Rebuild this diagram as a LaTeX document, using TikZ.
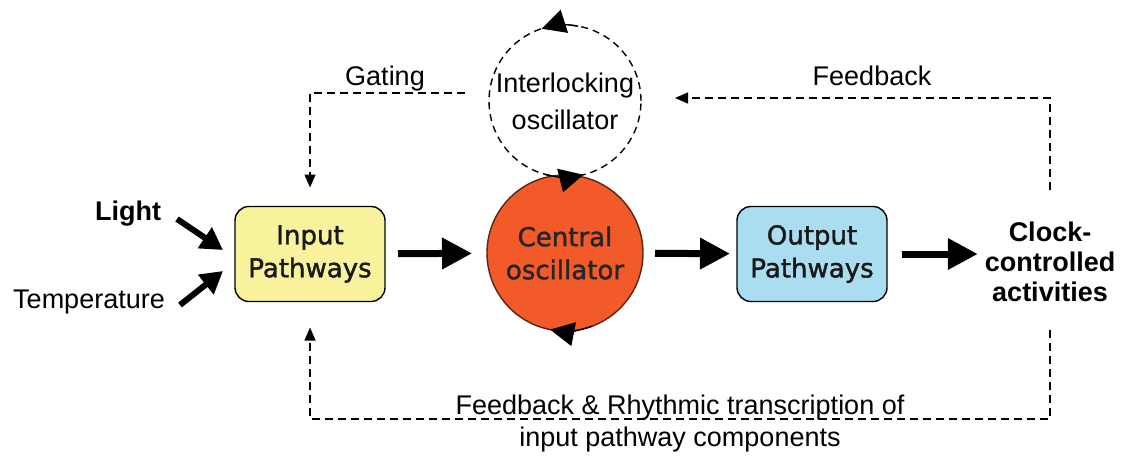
\documentclass[tikz,border=0pt]{standalone}
\usepackage{fontspec}
\setmainfont{Liberation Sans}
\newfontfamily\boxfont[FakeBold=1.5]{DejaVu Sans}
\usetikzlibrary{arrows.meta}
\definecolor{centralfill}{HTML}{F25A2A}
\definecolor{centralline}{HTML}{5A2410}
\definecolor{inputfill}{HTML}{F8F29C}
\definecolor{outputfill}{HTML}{AADDF0}
\begin{document}
\begin{tikzpicture}[x=1pt,y=-1pt,
  txt/.style={font=\fontsize{27}{31}\selectfont, inner sep=0pt, outer sep=0pt},
  boldtxt/.style={font=\fontsize{27}{30}\selectfont\bfseries, inner sep=0pt, outer sep=0pt, align=center},
  pathbox/.style={draw=black, line width=1.4pt, rounded corners=14pt, minimum width=150pt,
    minimum height=95pt, align=center, inner sep=0pt, outer sep=0pt,
    font=\boxfont\fontsize{26}{33}\selectfont, text=black!90},
  dsh/.style={line width=1.4pt, dash pattern=on 8pt off 5pt, -{Triangle[length=13pt,width=11pt]}},
  big/.style={line width=7pt, -{Triangle[length=30pt,width=30pt]}},
  mid/.style={line width=6pt, -{Triangle[length=22pt,width=24pt]}},
  cirtip/.style={solid, line width=1.4pt, -{Triangle[length=24pt,width=24pt]}},
]
\useasboundingbox (0,0) rectangle (1129,455);

% oscillators
\node[circle, draw=black, line width=1.4pt, dash pattern=on 7pt off 5pt, minimum size=152pt,
  inner sep=0pt, outer sep=0pt, align=center, font=\fontsize{27}{37}\selectfont] (inter) at (565,101)
  {Interlocking\\oscillator};
\node[circle, draw=centralline, fill=centralfill, line width=1.4pt, minimum size=156pt,
  inner sep=0pt, outer sep=0pt, align=center, text=black!85,
  font=\boxfont\fontsize{26}{33}\selectfont] (cen) at (565,253)
  {Central\\oscillator};

% circulating arrowheads
\draw[cirtip] (inter.80) arc[start angle=80, end angle=108, radius=76pt];
\draw[cirtip] (inter.255) arc[start angle=255, end angle=284, radius=76pt];
\draw[cirtip, draw=black] (cen.290) arc[start angle=290, end angle=259, radius=78pt];

% boxes
\node[pathbox, fill=inputfill] (inp) at (310,254) {Input\\Pathways};
\node[pathbox, fill=outputfill] (out) at (812,254) {Output\\Pathways};

% texts
\node[boldtxt, anchor=base] (light) at (128,220) {Light};
\node[txt, anchor=base] (temp) at (89,308) {Temperature};
\node[boldtxt] (clock) at (1050,262) {Clock-\\controlled\\activities};
\node[txt, anchor=base] (gating) at (385,85) {Gating};
\node[txt, anchor=base] (fbtop) at (872,85) {Feedback};
\node[txt, anchor=base] (fbbot1) at (680,414) {Feedback \& Rhythmic transcription of};
\node[txt, anchor=base] (fbbot2) at (680,446) {input pathway components};

% input arrows
\coordinate (ls) at (177,219);
\coordinate (lt) at (223,250);
\coordinate (ts) at (180,305);
\coordinate (tt) at (223,271);
\draw[mid] (ls) -- (lt);
\draw[mid] (ts) -- (tt);

% main flow
\draw[big, shorten <=13pt, shorten >=15pt] (inp) -- (cen);
\draw[big, shorten <=12pt, shorten >=7pt] (cen) -- (out);
\draw[big, shorten <=15pt, shorten >=7pt] (out) -- (clock.west |- out.east);

% dashed feedback paths
\coordinate (g0) at (465,93);
\draw[dsh, shorten >=19pt] (g0) -| (inp.north);
\coordinate (f0) at (1050,190);
\coordinate (f1) at (675,98);
\draw[dsh] (f0) |- (f1);
\coordinate (b0) at (1050,330);
\coordinate (b1) at (1050,419);
\draw[dsh, shorten >=26pt] (b0) -- (b1) -| (inp.south);
\end{tikzpicture}
\end{document}
